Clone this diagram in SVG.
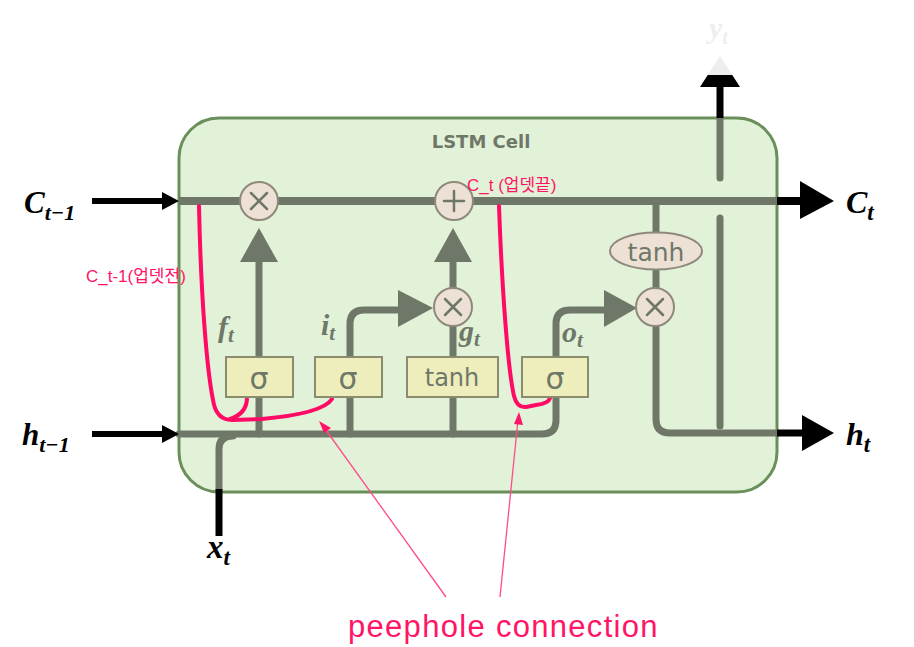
<svg xmlns="http://www.w3.org/2000/svg" width="914" height="647" viewBox="0 0 914 647">
<defs>
<style>
.g{stroke:#6f7868;stroke-width:7;fill:none;stroke-linecap:round;stroke-linejoin:round}
.k{stroke:#000;stroke-width:6;fill:none}
.pk{stroke:#ff0a64;stroke-width:4;fill:none;stroke-linecap:round;stroke-linejoin:round}
.ah{fill:#6f7868}
.op{fill:#ede0d4;stroke:#8f897c;stroke-width:2}
.opl{stroke:#6f7868;stroke-width:2.5;fill:none;stroke-linecap:round}
.box{fill:#edeebb;stroke:#8b8c6e;stroke-width:2}
.bt{font-family:"DejaVu Sans","Liberation Sans",sans-serif;fill:#6f7868;text-anchor:middle}
.m{font-family:"Liberation Serif",serif;font-style:italic;font-weight:bold;fill:#000}
.gl{font-family:"Liberation Serif",serif;font-style:italic;font-weight:bold;fill:#6f7868}
.pt{font-family:"Liberation Sans","Noto Sans CJK KR",sans-serif;fill:#ff1466}
</style>
<linearGradient id="yg" x1="0" y1="0" x2="0" y2="1">
<stop offset="0" stop-color="#eeeeee"/><stop offset="0.62" stop-color="#eeeeee"/><stop offset="0.62" stop-color="#000"/><stop offset="1" stop-color="#000"/>
</linearGradient>
</defs>
<rect width="914" height="647" fill="#fff"/>
<g id="cell">
<rect x="179" y="118" width="598" height="374" rx="40" fill="#e2f2d8" stroke="#6b8f5a" stroke-width="3"/>
<text x="481" y="148" class="bt" font-weight="bold" font-size="18">LSTM Cell</text>
</g>
<g id="connectors">
<line x1="179" y1="201" x2="777" y2="201" stroke="#6f7868" stroke-width="8"/>
<line x1="777" y1="201" x2="805" y2="201" stroke="#000" stroke-width="8"/>
<polygon points="800,181 834,201 800,219" fill="#000"/>
<line x1="92" y1="201" x2="166" y2="201" class="k"/>
<polygon points="162,192 179,201 162,210" fill="#000"/>
<path class="g" d="M179 434 H542 Q556 434 556 420 V397"/>
<line x1="92" y1="434" x2="166" y2="434" class="k"/>
<polygon points="162,425 179,434 162,443" fill="#000"/>
<path class="g" d="M219 489 V449 Q219 436 233 436"/>
<line x1="219" y1="489" x2="219" y2="536" stroke="#000" stroke-width="7"/>
<line class="g" x1="259" y1="434" x2="259" y2="397"/>
<line class="g" x1="259" y1="357" x2="259" y2="258"/>
<polygon class="ah" points="259,228 278,262 240,262"/>
<line class="g" x1="350" y1="434" x2="350" y2="397"/>
<path class="g" d="M350 357 V324 Q350 310 364 310 H402"/>
<polygon class="ah" points="398,290 433,308 398,327"/>
<line class="g" x1="453" y1="434" x2="453" y2="397"/>
<line class="g" x1="453" y1="357" x2="453" y2="326"/>
<line class="g" x1="453" y1="288" x2="453" y2="258"/>
<polygon class="ah" points="453,228 472,262 434,262"/>
<path class="g" d="M556 357 V324 Q556 310 570 310 H608"/>
<polygon class="ah" points="604,290 637,308 604,327"/>
<line class="g" x1="656" y1="201" x2="656" y2="232"/>
<line class="g" x1="656" y1="270" x2="656" y2="288"/>
<path class="g" d="M656 326 V419 Q656 433 670 433 H777"/>
<line x1="777" y1="433" x2="805" y2="433" stroke="#000" stroke-width="7"/>
<polygon points="802,415 834,433 802,451" fill="#000"/>
<line class="g" x1="720" y1="426" x2="720" y2="218"/>
<line class="g" x1="720" y1="178" x2="720" y2="119"/>
<line x1="720" y1="118" x2="720" y2="86" stroke="#000" stroke-width="7"/>
<polygon points="720,56 740,87 700,87" fill="url(#yg)"/>
<path class="pk" d="M199 206 C201 300 207 370 213 400 Q216 420 232 420 L262 419 C295 416 325 410 332 399"/>
<path class="pk" d="M230 419 Q246 414 247 399"/>
<path class="pk" d="M499 206 C502 290 508 370 514 396 Q517 408 526 407 L536 405 C544 404 549 402 550 398"/>
<line x1="446" y1="597" x2="323" y2="426" stroke="#ff4a8a" stroke-width="1.3"/>
<polygon points="319,421 331,428 324,433" fill="#ff1466"/>
<line x1="500" y1="597" x2="518" y2="420" stroke="#ff4a8a" stroke-width="1.3"/>
<polygon points="519,412 523,425 514,424" fill="#ff1466"/>
</g>
<g id="op_forget">
<circle class="op" cx="259" cy="201" r="19"/>
<path class="opl" d="M251 193 L267 209 M267 193 L251 209"/>
</g>
<g id="op_add">
<circle class="op" cx="454" cy="201" r="19"/>
<path class="opl" d="M454 191 V211 M444 201 H464"/>
</g>
<g id="op_input">
<circle class="op" cx="453" cy="307" r="19"/>
<path class="opl" d="M445 299 L461 315 M461 299 L445 315"/>
</g>
<g id="op_output">
<circle class="op" cx="655" cy="307" r="19"/>
<path class="opl" d="M647 299 L663 315 M663 299 L647 315"/>
</g>
<g id="tanh_out">
<ellipse class="op" cx="656" cy="251" rx="46" ry="18.5"/>
<text x="656" y="261" class="bt" font-size="25">tanh</text>
</g>
<g id="gate_f">
<rect class="box" x="226" y="357" width="67" height="40"/>
<text x="259" y="389" class="bt" font-size="30">σ</text>
</g>
<g id="gate_i">
<rect class="box" x="315" y="357" width="67" height="40"/>
<text x="348" y="389" class="bt" font-size="30">σ</text>
</g>
<g id="gate_g">
<rect class="box" x="407" y="357" width="91" height="40"/>
<text x="452" y="386" class="bt" font-size="24">tanh</text>
</g>
<g id="gate_o">
<rect class="box" x="522" y="357" width="66" height="40"/>
<text x="555" y="389" class="bt" font-size="30">σ</text>
</g>
<g id="labels">
<text x="24" y="213" class="m" font-size="31">C<tspan font-size="22" dy="7">t−1</tspan></text>
<text x="22" y="445" class="m" font-size="31">h<tspan font-size="22" dy="7">t−1</tspan></text>
<text x="846" y="213" class="m" font-size="32">C<tspan font-size="23" dy="7">t</tspan></text>
<text x="846" y="445" class="m" font-size="32">h<tspan font-size="23" dy="7">t</tspan></text>
<text x="207" y="558" class="m" font-size="33">x<tspan font-size="23" dy="7">t</tspan></text>
<text x="709" y="38" class="m" font-size="30" style="fill:#eeeeee">y<tspan font-size="20" dy="6">t</tspan></text>
<text x="218" y="337" class="gl" font-size="30">f<tspan font-size="21" dy="5">t</tspan></text>
<text x="321" y="335" class="gl" font-size="30">i<tspan font-size="21" dy="5">t</tspan></text>
<text x="459" y="341" class="gl" font-size="30">g<tspan font-size="21" dy="5">t</tspan></text>
<text x="562" y="342" class="gl" font-size="30">o<tspan font-size="21" dy="5">t</tspan></text>
<text x="86" y="282" class="pt" font-size="17">C_t-1(업뎃전)</text>
<text x="467" y="191" class="pt" font-size="17">C_t (업뎃끝)</text>
<text x="348" y="637" class="pt" font-size="31" letter-spacing="1.3">peephole connection</text>
</g>
</svg>
